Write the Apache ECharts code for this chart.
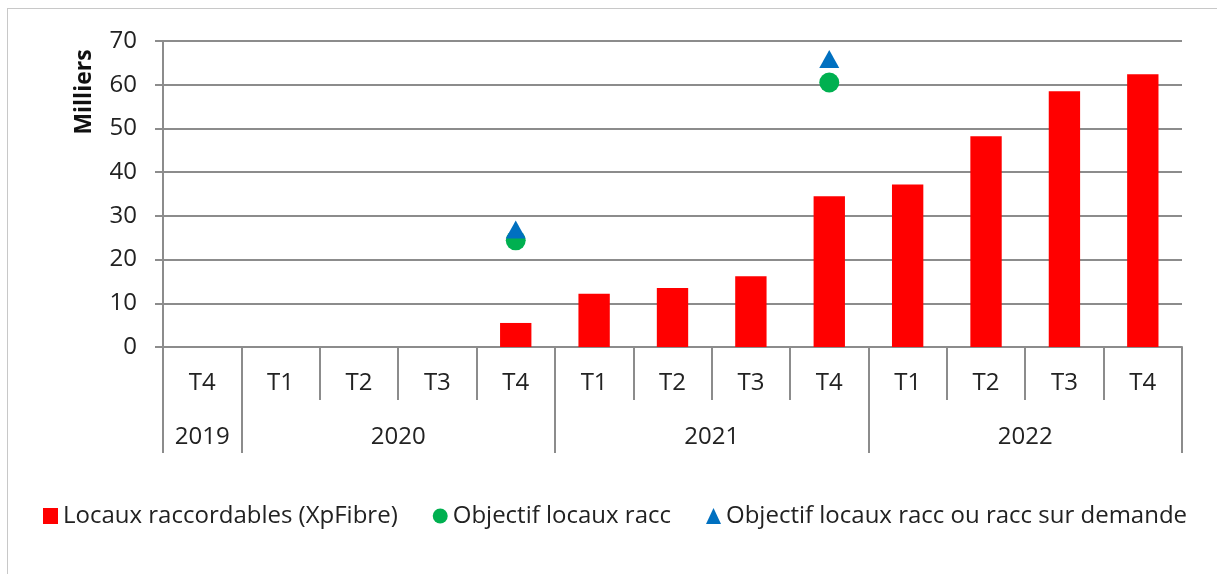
<!DOCTYPE html>
<html>
<head>
<meta charset="utf-8">
<script src="https://cdn.jsdelivr.net/npm/echarts@6/dist/echarts.min.js"></script>
<style>
  html, body { margin: 0; padding: 0; background: #fff; overflow: hidden; }
  #frame { position: absolute; left: 7px; top: 8px; width: 1240px; height: 600px; border: 1px solid #c8c8c8; }
  #chart { position: absolute; left: 0; top: 0; width: 1217px; height: 574px; }
</style>
</head>
<body>
<div id="frame"></div>
<div id="chart"></div>
<script>
// trimestres (niveau 1) et années (niveau 2)
const quarters = ['T4', 'T1', 'T2', 'T3', 'T4', 'T1', 'T2', 'T3', 'T4', 'T1', 'T2', 'T3', 'T4']
const years = ['2019', '2020', '2021', '2022']
const yearSpans = [1, 4, 4, 4]

// valeurs en milliers
const raccordables = [null, null, null, null, 5.5, 12.2, 13.5, 16.2, 34.5, 37.2, 48.2, 58.5, 62.4]
const objectifRacc = [null, null, null, null, 24.4, null, null, null, 60.5, null, null, null, null]
const objectifDemande = [null, null, null, null, 26.9, null, null, null, 65.9, null, null, null, null]

const yTicks = [0, 10, 20, 30, 40, 50, 60, 70]

// bornes et centres des années sur l'axe (en nombre de trimestres)
const yearBounds = [0]
yearSpans.forEach(s => yearBounds.push(yearBounds[yearBounds.length - 1] + s))
const yearCenters = yearSpans.map((s, i) => yearBounds[i] + s / 2)
const quarterBounds = quarters.map((_, i) => i).concat([quarters.length])

const FONT = 'Open Sans'
const TXT = '#222'
const LINE = '#8c8c8c'
const FS = 24

const chart = echarts.init(document.getElementById('chart'))
chart.setOption({
  animation: false,
  textStyle: { fontFamily: FONT },
  grid: { left: 163, right: 35, top: 41, bottom: 227, containLabel: false, outerBoundsMode: 'none' },
  xAxis: [
    {
      type: 'category',
      data: quarters,
      position: 'bottom',
      axisLine: { lineStyle: { color: LINE, width: 2 } },
      axisTick: { show: false },
      axisLabel: { interval: 0, margin: 24, fontSize: FS, color: TXT, fontFamily: FONT },
      splitLine: { show: false },
    },
    {
      // séparateurs des trimestres
      type: 'value',
      min: 0,
      max: quarters.length,
      position: 'bottom',
      axisLine: { show: false },
      splitLine: { show: false },
      axisTick: { show: true, length: 53, customValues: quarterBounds, lineStyle: { color: LINE, width: 2 } },
      axisLabel: { show: false },
    },
    {
      // années
      type: 'value',
      min: 0,
      max: quarters.length,
      position: 'bottom',
      axisLine: { show: false },
      splitLine: { show: false },
      axisTick: { show: true, length: 106, customValues: yearBounds, lineStyle: { color: LINE, width: 2 } },
      axisLabel: {
        margin: 78, fontSize: FS, color: TXT, fontFamily: FONT,
        customValues: yearCenters,
        formatter: v => years[yearCenters.indexOf(v)] || '',
      },
    },
  ],
  yAxis: {
    type: 'value',
    min: yTicks[0],
    max: yTicks[yTicks.length - 1],
    interval: 10,
    axisLine: { show: true, lineStyle: { color: LINE, width: 2 } },
    axisTick: { show: true, length: 8, lineStyle: { color: LINE, width: 2 } },
    axisLabel: { margin: 26, fontSize: FS, color: TXT, fontFamily: FONT },
    splitLine: { lineStyle: { color: LINE, width: 2 } },
  },
  legend: {
    left: 43,
    top: 504,
    padding: 0,
    itemGap: 35,
    itemWidth: 15,
    itemHeight: 16,
    textStyle: { fontSize: FS, color: TXT, fontFamily: FONT },
    data: [
      { name: 'Locaux raccordables (XpFibre)', icon: 'rect' },
      { name: 'Objectif locaux racc', icon: 'circle' },
      { name: 'Objectif locaux racc ou racc sur demande', icon: 'triangle' },
    ],
  },
  graphic: [{
    type: 'text',
    x: 84,
    y: 92,
    rotation: Math.PI / 2,
    style: {
      text: 'Milliers',
      fontFamily: FONT,
      fontSize: 23,
      fontWeight: 'bold',
      fill: '#111',
      align: 'center',
      verticalAlign: 'middle',
    },
  }],
  series: [
    {
      name: 'Locaux raccordables (XpFibre)',
      type: 'bar',
      data: raccordables,
      barWidth: '40%',
      itemStyle: { color: '#ff0000' },
    },
    {
      name: 'Objectif locaux racc',
      type: 'scatter',
      data: objectifRacc,
      symbol: 'circle',
      symbolSize: 20,
      itemStyle: { color: '#00b050', opacity: 1 },
    },
    {
      name: 'Objectif locaux racc ou racc sur demande',
      type: 'scatter',
      data: objectifDemande,
      symbol: 'triangle',
      symbolSize: [20, 18],
      itemStyle: { color: '#0070c0', opacity: 1 },
    },
  ],
})
</script>
</body>
</html>
